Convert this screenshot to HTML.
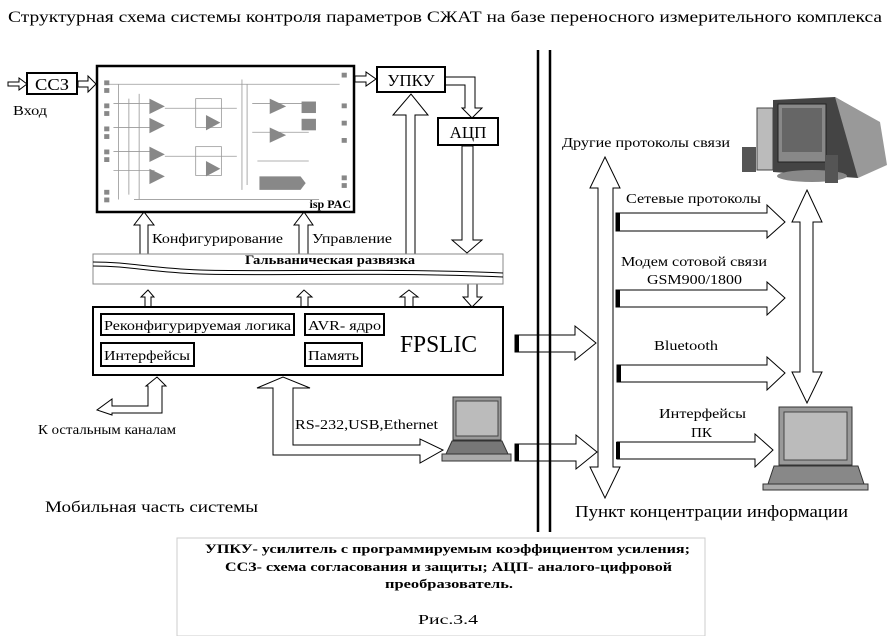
<!DOCTYPE html>
<html><head><meta charset="utf-8"><style>
body{margin:0;background:#fff}
svg{display:block;font-family:"Liberation Serif",serif}
</style></head><body>
<svg width="889" height="636" viewBox="0 0 889 636" xmlns="http://www.w3.org/2000/svg">
<rect width="889" height="636" fill="#fff"/>
<text x="8" y="22" font-size="16" textLength="874" lengthAdjust="spacingAndGlyphs">Структурная схема системы контроля параметров СЖАТ на базе переносного измерительного комплекса</text>

<rect x="177" y="538" width="528" height="98" fill="#fff" stroke="#ccc" stroke-width="1"/>

<g fill="#fff" stroke="#000" stroke-width="1">
<!-- input arrow -->
<polygon points="8,82 19,82 19,78 27,84 19,90 19,86 8,86"/>
<!-- ССЗ -> ispPAC -->
<polygon points="78,81 88,81 88,76 96,84 88,92 88,87 78,87"/>
<!-- ispPAC -> УПКУ -->
<polygon points="355,76 366,76 366,72 376,79 366,86 366,82 355,82"/>
<!-- УПКУ -> АЦП bent -->
<polygon points="445,77 475,77 475,108 482,108 472,118 462,108 465,108 465,85 445,85"/>
<!-- АЦП down to band -->
<polygon points="462,146 473,146 473,240 482,240 467,253 452,240 462,240"/>
<!-- band up to УПКУ -->
<polygon points="406,254 415,254 415,115 428,115 411,94 393,115 406,115"/>
<!-- up to ispPAC -->
<polygon points="140,254 148,254 148,225 154,225 144,212 134,225 140,225"/>
<polygon points="299,254 308,254 308,225 313,225 304,212 294,225 299,225"/>
<!-- band to FPSLIC small arrows -->
<polygon points="145,307 151,307 151,297 154,297 148,290 141,297 145,297"/>
<polygon points="301,307 308,307 308,297 312,297 304,290 297,297 301,297"/>
<polygon points="405,307 413,307 413,297 418,297 409,290 400,297 405,297"/>
<polygon points="468,284 477,284 477,297 482,297 472,307 463,297 468,297"/>
</g>

<rect x="27" y="73" width="50" height="21" fill="#fff" stroke="#000" stroke-width="2"/>
<text x="35" y="90" font-size="17" textLength="34" lengthAdjust="spacingAndGlyphs">ССЗ</text>
<text x="13" y="115" font-size="14" textLength="34" lengthAdjust="spacingAndGlyphs">Вход</text>

<rect x="97" y="66" width="257" height="146" fill="#fff" stroke="#000" stroke-width="2.5"/>
<g transform="translate(97,66) scale(1.028,0.96) translate(-94,-61)">
<g stroke="#999" stroke-width="0.8" fill="none">
<line x1="105" y1="80" x2="330" y2="80"/><line x1="115" y1="80" x2="115" y2="200"/>
<line x1="125" y1="95" x2="125" y2="195"/><line x1="135" y1="90" x2="135" y2="200"/>
<line x1="110" y1="100" x2="150" y2="100"/><line x1="110" y1="125" x2="150" y2="125"/>
<line x1="110" y1="150" x2="150" y2="150"/><line x1="110" y1="170" x2="150" y2="170"/>
<line x1="160" y1="105" x2="230" y2="105"/><line x1="160" y1="155" x2="230" y2="155"/>
<rect x="190" y="95" width="25" height="30"/><rect x="190" y="145" width="25" height="30"/>
<line x1="235" y1="75" x2="235" y2="190"/><line x1="240" y1="80" x2="240" y2="185"/>
<line x1="245" y1="100" x2="300" y2="100"/><line x1="245" y1="130" x2="300" y2="130"/>
<line x1="250" y1="160" x2="300" y2="160"/><line x1="130" y1="200" x2="310" y2="200"/>
</g>
<g fill="#888">
<polygon points="145,95 160,103 145,111"/><polygon points="145,115 160,123 145,131"/>
<polygon points="145,145 160,153 145,161"/><polygon points="145,168 160,176 145,184"/>
<polygon points="200,112 214,120 200,128"/><polygon points="200,160 214,168 200,176"/>
<polygon points="262,95 278,103 262,111"/><polygon points="262,125 278,133 262,141"/>
<rect x="293" y="98" width="14" height="12"/><rect x="293" y="116" width="14" height="12"/>
<polygon points="252,176 292,176 297,183 292,190 252,190"/>
<rect x="101" y="76" width="5" height="5"/><rect x="101" y="84" width="5" height="5"/>
<rect x="101" y="100" width="5" height="5"/><rect x="101" y="108" width="5" height="5"/>
<rect x="101" y="124" width="5" height="5"/><rect x="101" y="132" width="5" height="5"/>
<rect x="101" y="148" width="5" height="5"/><rect x="101" y="156" width="5" height="5"/>
<rect x="101" y="190" width="5" height="5"/><rect x="101" y="198" width="5" height="5"/>
<rect x="332" y="68" width="5" height="5"/><rect x="332" y="100" width="5" height="5"/>
<rect x="332" y="118" width="5" height="5"/><rect x="332" y="136" width="5" height="5"/>
<rect x="332" y="175" width="5" height="5"/><rect x="332" y="183" width="5" height="5"/>
</g>
</g>
<text x="351" y="208" font-size="12" font-weight="bold" text-anchor="end">isp PAC</text>

<rect x="377" y="67" width="68" height="25" fill="#fff" stroke="#000" stroke-width="2"/>
<text x="411" y="86" font-size="17" text-anchor="middle">УПКУ</text>
<rect x="438" y="118" width="60" height="27" fill="#fff" stroke="#000" stroke-width="2"/>
<text x="468" y="138" font-size="17" text-anchor="middle">АЦП</text>

<text x="152" y="243" font-size="14" textLength="131" lengthAdjust="spacingAndGlyphs">Конфигурирование</text>
<text x="312" y="243" font-size="14" textLength="80" lengthAdjust="spacingAndGlyphs">Управление</text>

<rect x="93" y="254" width="410" height="30" fill="#fff" stroke="#888" stroke-width="1"/>
<path d="M93,262 C130,262 150,268 200,270 C260,272 400,268 503,273" fill="none" stroke="#000" stroke-width="1"/>
<path d="M93,266 C130,266 150,272 200,274 C260,276 400,272 503,277" fill="none" stroke="#000" stroke-width="1"/>
<text x="245" y="264" font-size="13" font-weight="bold" textLength="170" lengthAdjust="spacingAndGlyphs">Гальваническая развязка</text>

<rect x="93" y="307" width="410" height="68" fill="#fff" stroke="#000" stroke-width="2"/>
<g fill="#fff" stroke="#000" stroke-width="2">
<rect x="101" y="314" width="193" height="21"/><rect x="101" y="343" width="93" height="23"/>
<rect x="305" y="314" width="79" height="21"/><rect x="305" y="343" width="57" height="23"/>
</g>
<g font-size="14">
<text x="104" y="330" textLength="187" lengthAdjust="spacingAndGlyphs">Реконфигурируемая логика</text>
<text x="104" y="360" textLength="86" lengthAdjust="spacingAndGlyphs">Интерфейсы</text>
<text x="308" y="330" textLength="73" lengthAdjust="spacingAndGlyphs">AVR- ядро</text>
<text x="308" y="360" textLength="51" lengthAdjust="spacingAndGlyphs">Память</text>
</g>
<text x="400" y="352" font-size="24" textLength="77" lengthAdjust="spacingAndGlyphs">FPSLIC</text>

<g fill="#fff" stroke="#000" stroke-width="1">
<polygon points="148,386 148,406 112,406 112,399 97,410 112,415 112,413 162,413 162,386 166,386 157,377 146,386"/>
<polygon points="273,388 273,455 420,455 420,463 443,450 420,439 420,445 293,445 293,388 310,388 283,377 257,388"/>
<polygon points="515,335 575,335 575,326 596,343 575,360 575,352 515,352"/>
<polygon points="515,444 576,444 576,435 597,452 576,469 576,461 515,461"/>
<polygon points="605,157 620,188 613,188 613,467 620,467 605,498 590,467 598,467 598,188 590,188"/>
<polygon points="807,190 822,222 813,222 813,372 822,372 807,403 792,372 800,372 800,222 792,222"/>
<polygon points="616,213 767,213 767,205 785,222 767,238 767,231 616,231"/>
<polygon points="616,290 767,290 767,282 785,298 767,315 767,307 616,307"/>
<polygon points="617,365 767,365 767,357 785,373 767,390 767,382 617,382"/>
<polygon points="617,442 755,442 755,434 773,450 755,467 755,459 617,459"/>
</g>
<g fill="#000">
<rect x="616" y="213" width="4" height="18"/><rect x="616" y="290" width="4" height="17"/>
<rect x="617" y="365" width="4" height="17"/><rect x="616" y="442" width="4" height="17"/>
<rect x="515" y="335" width="4" height="17"/><rect x="515" y="444" width="4" height="17"/>
</g>

<line x1="538" y1="50" x2="538" y2="532" stroke="#000" stroke-width="2.5"/>
<line x1="550" y1="50" x2="550" y2="532" stroke="#000" stroke-width="2.5"/>

<text x="38" y="434" font-size="14" textLength="138" lengthAdjust="spacingAndGlyphs">К остальным каналам</text>
<text x="295" y="429" font-size="14" textLength="143" lengthAdjust="spacingAndGlyphs">RS-232,USB,Ethernet</text>
<text x="45" y="512" font-size="16" textLength="213" lengthAdjust="spacingAndGlyphs">Мобильная часть системы</text>

<!-- small laptop -->
<rect x="453" y="397" width="48" height="43" fill="#999" stroke="#333"/>
<rect x="456" y="401" width="42" height="35" fill="#bbb" stroke="#444"/>
<polygon points="452,441 502,441 508,454 446,454" fill="#777" stroke="#333"/>
<rect x="442" y="454" width="69" height="7" fill="#aaa" stroke="#333"/>

<g font-size="14">
<text x="562" y="147" textLength="168" lengthAdjust="spacingAndGlyphs">Другие протоколы связи</text>
<text x="626" y="203" textLength="135" lengthAdjust="spacingAndGlyphs">Сетевые протоколы</text>
<text x="621" y="266" textLength="146" lengthAdjust="spacingAndGlyphs">Модем сотовой связи</text>
<text x="647" y="284" textLength="95" lengthAdjust="spacingAndGlyphs">GSM900/1800</text>
<text x="654" y="350" textLength="64" lengthAdjust="spacingAndGlyphs">Bluetooth</text>
<text x="659" y="418" textLength="87" lengthAdjust="spacingAndGlyphs">Интерфейсы</text>
<text x="691" y="437" textLength="21" lengthAdjust="spacingAndGlyphs">ПК</text>
</g>
<text x="575" y="517" font-size="17" textLength="273" lengthAdjust="spacingAndGlyphs">Пункт концентрации информации</text>

<!-- desktop computer -->
<rect x="757" y="108" width="16" height="62" fill="#bbb" stroke="#444"/>
<polygon points="773,100 835,97 858,110 858,178 773,172" fill="#444"/>
<polygon points="835,97 880,122 887,165 858,178" fill="#999"/>
<rect x="778" y="104" width="48" height="58" fill="#888" stroke="#222"/>
<rect x="782" y="108" width="40" height="44" fill="#666"/>
<ellipse cx="812" cy="176" rx="35" ry="6" fill="#888"/>
<rect x="742" y="147" width="14" height="25" fill="#555"/>
<rect x="825" y="155" width="13" height="28" fill="#555"/>

<!-- right laptop -->
<rect x="779" y="407" width="73" height="58" fill="#999" stroke="#333"/>
<rect x="784" y="412" width="63" height="48" fill="#bbb" stroke="#444"/>
<polygon points="774,466 858,466 864,484 768,484" fill="#888" stroke="#333"/>
<rect x="763" y="484" width="105" height="6" fill="#aaa" stroke="#333"/>

<g font-size="13" font-weight="bold">
<text x="205" y="553" textLength="485" lengthAdjust="spacingAndGlyphs">УПКУ- усилитель с программируемым коэффициентом усиления;</text>
<text x="225" y="571" textLength="447" lengthAdjust="spacingAndGlyphs">ССЗ- схема согласования и защиты; АЦП- аналого-цифровой</text>
<text x="385" y="588" textLength="128" lengthAdjust="spacingAndGlyphs">преобразователь.</text>
</g>
<text x="418" y="624" font-size="14" textLength="60" lengthAdjust="spacingAndGlyphs">Рис.3.4</text>
</svg>
</body></html>
